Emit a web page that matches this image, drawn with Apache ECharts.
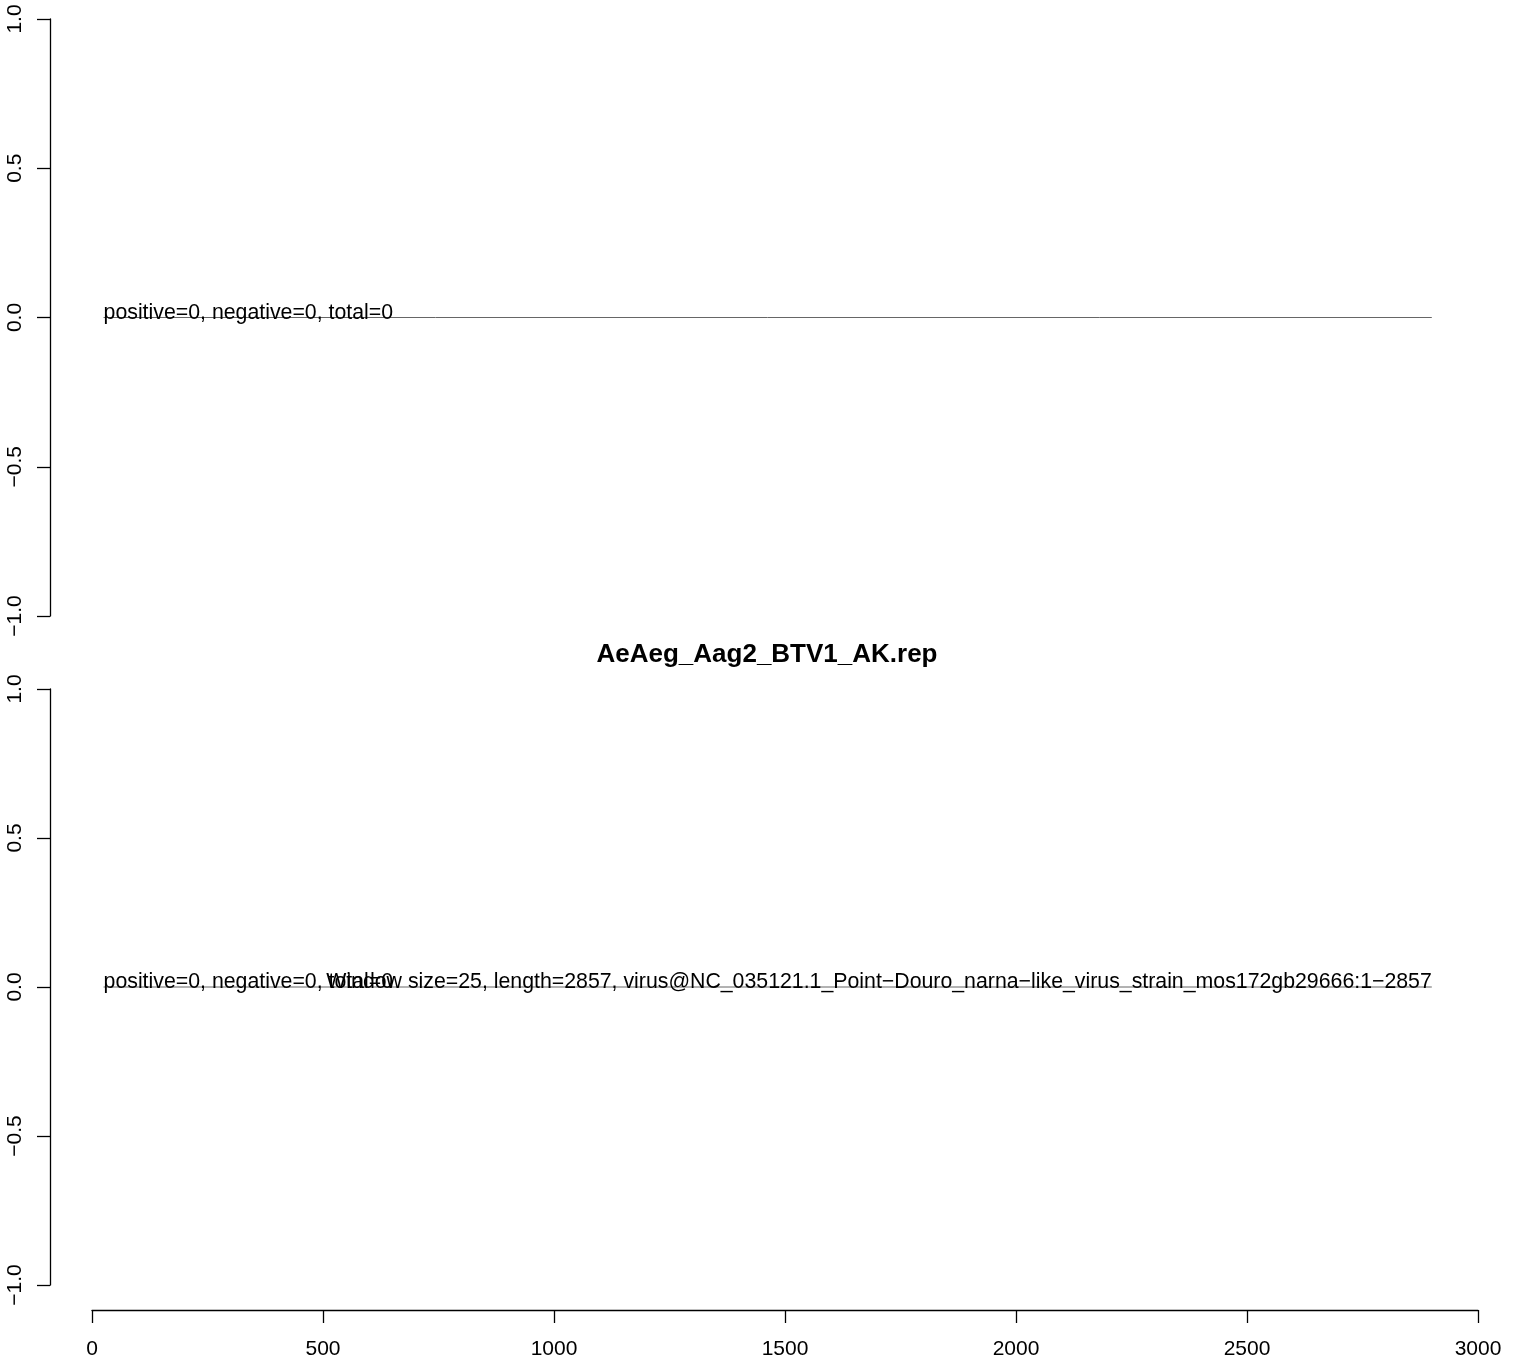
<!DOCTYPE html>
<html>
<head>
<meta charset="utf-8">
<script src="https://cdn.jsdelivr.net/npm/echarts@6/dist/echarts.min.js"></script>
<style>
  html, body { margin: 0; padding: 0; background: #fff; }
  #chart { width: 1518px; height: 1361px; }
</style>
</head>
<body>
<div id="chart"></div>
<script>
const titleText = "AeAeg_Aag2_BTV1_AK.rep";
const xTicks = [0, 500, 1000, 1500, 2000, 2500, 3000];
const yTicks = [-1, -0.5, 0, 0.5, 1];
const lineStart = 25;
const lineEnd = 2900;
const topLine = [[lineStart, 0], [lineEnd, 0]];
const bottomLine = [[lineStart, 0], [lineEnd, 0]];
const countsLabel = "positive=0, negative=0, total=0";
const infoLabel = "Window size=25, length=2857, virus@NC_035121.1_Point\u2212Douro_narna\u2212like_virus_strain_mos172gb29666:1\u22122857";

const font = "Liberation Sans, Arial, Helvetica, sans-serif";
const fmtY = (v) => (v < 0 ? "\u2212" : "") + Math.abs(v).toFixed(1);

const chart = echarts.init(document.getElementById("chart"));

function yAxis(gridIndex) {
  return {
    type: "value",
    gridIndex,
    min: yTicks[0],
    max: yTicks[yTicks.length - 1],
    interval: 0.5,
    offset: 42,
    splitLine: { show: false },
    axisLine: { show: true, onZero: false, lineStyle: { color: "#000", width: 1.3 } },
    axisTick: { show: true, length: 13, lineStyle: { color: "#000", width: 1.3 } },
    axisLabel: {
      rotate: 90,
      margin: 24,
      color: "#000",
      fontFamily: font,
      fontSize: 21,
      formatter: fmtY
    }
  };
}

function textPoint(x, text, align, xi, yi) {
  return {
    type: "scatter",
    xAxisIndex: xi,
    yAxisIndex: yi,
    symbolSize: 0,
    itemStyle: { color: "#000", opacity: 1 },
    silent: true,
    z: 5,
    label: {
      show: true,
      position: [0, 0],
      align,
      verticalAlign: "bottom",
      offset: [0, 6],
      color: "#000",
      opacity: 1,
      textBorderWidth: 0,
      fontFamily: font,
      fontSize: 21.3,
      formatter: text
    },
    data: [[x, 0]]
  };
}

const option = {
  backgroundColor: "#fff",
  animation: false,
  title: {
    text: titleText,
    left: 762,
    top: 637,
    textAlign: "center",
    textStyle: { fontFamily: font, fontSize: 26, fontWeight: "bold", color: "#000" }
  },
  grid: [
    { left: 92, right: 40, top: 19, height: 597 },
    { left: 92, right: 40, top: 689, height: 596 }
  ],
  xAxis: [
    { type: "value", gridIndex: 0, min: 0, max: 3000, show: false },
    {
      type: "value",
      gridIndex: 1,
      min: xTicks[0],
      max: xTicks[xTicks.length - 1],
      interval: 500,
      offset: 25,
      splitLine: { show: false },
      axisLine: { show: true, onZero: false, lineStyle: { color: "#000", width: 1.3 } },
      axisTick: { show: true, length: 13, lineStyle: { color: "#000", width: 1.3 } },
      axisLabel: {
        margin: 29,
        color: "#000",
        fontFamily: font,
        fontSize: 21,
        formatter: (v) => String(v)
      }
    }
  ],
  yAxis: [yAxis(0), yAxis(1)],
  series: [
    {
      type: "line",
      xAxisIndex: 0,
      yAxisIndex: 0,
      data: topLine,
      symbol: "none",
      lineStyle: { color: "#666", width: 1 }
    },
    {
      type: "line",
      xAxisIndex: 1,
      yAxisIndex: 1,
      data: bottomLine,
      symbol: "none",
      lineStyle: { color: "#666", width: 1 }
    },
    textPoint(lineStart, countsLabel, "left", 0, 0),
    textPoint(lineStart, countsLabel, "left", 1, 1),
    textPoint(lineEnd, infoLabel, "right", 1, 1)
  ]
};

chart.setOption(option);
</script>
</body>
</html>
